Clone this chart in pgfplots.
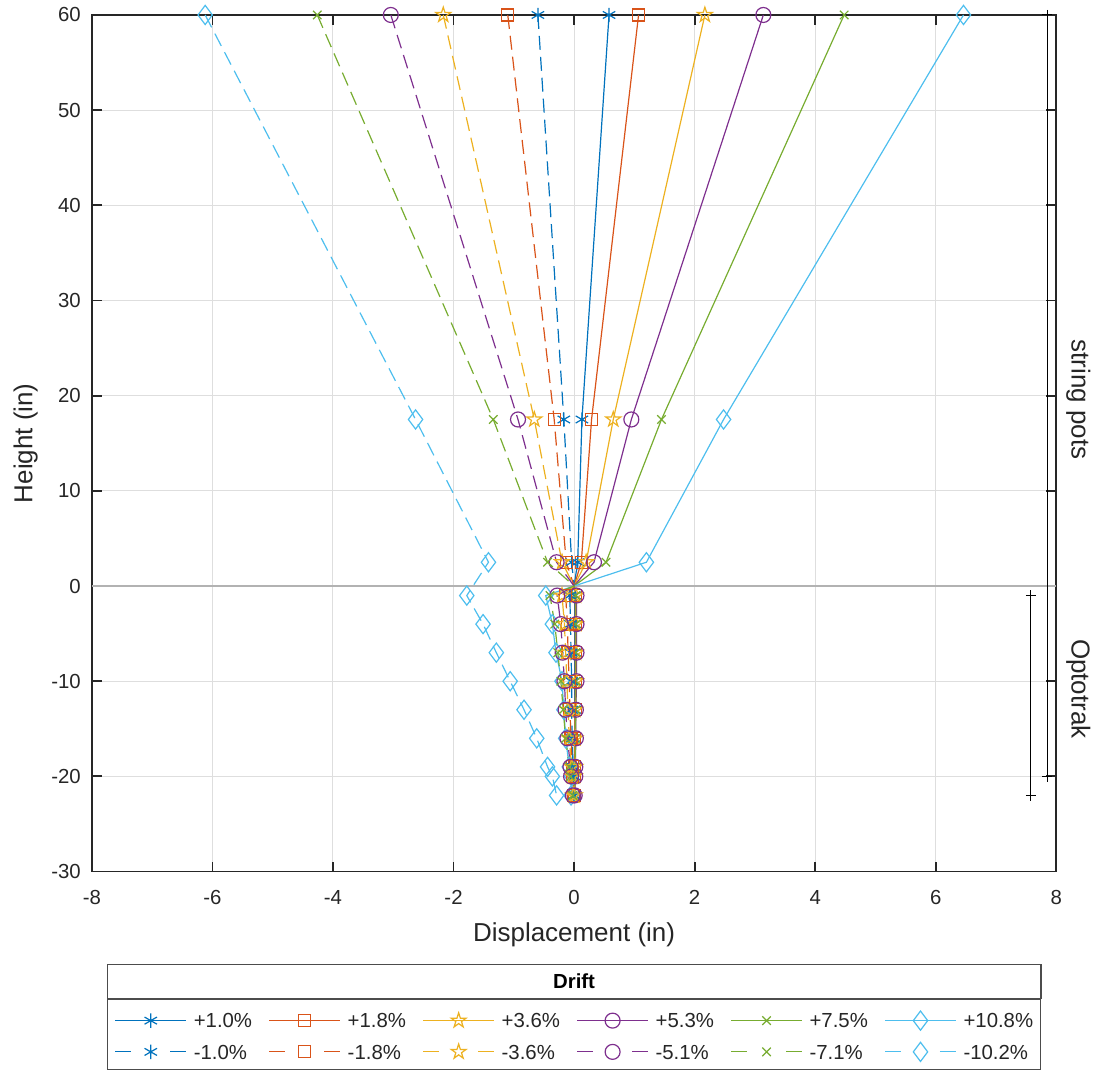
\documentclass[border=0pt]{standalone}
\usepackage{fontspec}
\setmainfont{Liberation Sans}
\usepackage{pgfplots}
\pgfplotsset{compat=1.18}
\definecolor{c1}{rgb}{0,0.447,0.741}
\definecolor{c2}{rgb}{0.850,0.325,0.098}
\definecolor{c3}{rgb}{0.929,0.694,0.125}
\definecolor{c4}{rgb}{0.494,0.184,0.556}
\definecolor{c5}{rgb}{0.466,0.674,0.188}
\definecolor{c6}{rgb}{0.301,0.745,0.933}
\pgfdeclareplotmark{pentagram}{%
  \pgfpathmoveto{\pgfpointpolar{90}{\pgfplotmarksize}}%
  \pgfpathlineto{\pgfpointpolar{126}{0.382\pgfplotmarksize}}%
  \pgfpathlineto{\pgfpointpolar{162}{\pgfplotmarksize}}%
  \pgfpathlineto{\pgfpointpolar{198}{0.382\pgfplotmarksize}}%
  \pgfpathlineto{\pgfpointpolar{234}{\pgfplotmarksize}}%
  \pgfpathlineto{\pgfpointpolar{270}{0.382\pgfplotmarksize}}%
  \pgfpathlineto{\pgfpointpolar{306}{\pgfplotmarksize}}%
  \pgfpathlineto{\pgfpointpolar{342}{0.382\pgfplotmarksize}}%
  \pgfpathlineto{\pgfpointpolar{18}{\pgfplotmarksize}}%
  \pgfpathlineto{\pgfpointpolar{54}{0.382\pgfplotmarksize}}%
  \pgfpathclose\pgfusepathqstroke}
\pgfplotsset{
  sol/.style={line width=0.6pt, mark options={solid, line width=0.6pt}, mark indices={1,2,3,5,6,7,8,9,10,11,12,13}},
  das/.style={sol, dash pattern=on 7pt off 3.5pt, legend image post style={dash pattern=on 8pt off 19.5pt}},
}
\begin{document}
\begin{tikzpicture}
\begin{axis}[name=ax, scale only axis, width=483pt, height=429pt,
  xmin=-8, xmax=8, ymin=-30, ymax=60,
  xtick={-8,-6,...,8}, ytick={-30,-20,...,60},
  grid=major, major grid style={black!13, line width=0.5pt},
  tick align=inside, major tick length=5pt,
  axis line style={black!85, line width=0.9pt},
  tick style={black!85, line width=0.9pt},
  ticklabel style={font=\fontsize{10.2}{12}\selectfont, text=black!85},
  xticklabel style={yshift=-6pt},
  yticklabel style={xshift=-2pt},
  /pgf/number format/assume math mode=true,
  xlabel={Displacement (in)}, ylabel={Height (in)},
  label style={font=\fontsize{13}{15}\selectfont, text=black!85},
  xlabel style={yshift=-2pt},
  clip=false,
  legend columns=6,
  legend style={at={(0.5,-0.14802)}, anchor=north, draw=black!70, line width=0.6pt,
    inner xsep=3.5pt, inner ysep=4pt, font=\fontsize{10.2}{12}\selectfont, text=black!85,
    nodes={inner sep=0pt, text height=10.5pt, text depth=0pt, text width=35pt, align=left},
    /tikz/every odd column/.append style={column sep=3.5pt},
    /tikz/every even column/.append style={column sep=2.5pt},
    row sep=4pt, name=leg, cells={anchor=west}},
  legend image code/.code={\draw[mark indices={2}] plot coordinates {(0pt,-1.6pt) (17.75pt,-1.6pt) (35.5pt,-1.6pt)};},
]
\addplot[black!30, line width=0.8pt, forget plot] coordinates {(-8,0) (8,0)};
% positive drifts
\addplot[c1, sol, mark=asterisk, mark size=3.6pt] coordinates {(0.58,60) (0.13,17.5) (0.06,2.5) (0,0) (0.01,-1) (0.01,-4) (0.01,-7) (0.01,-10) (0.01,-13) (0.01,-16) (0.00,-19) (0.00,-20) (0.00,-22)};
\addlegendentry{+1.0\%}
\addplot[c2, sol, mark=square, mark size=3pt] coordinates {(1.07,60) (0.29,17.5) (0.12,2.5) (0,0) (0.02,-1) (0.02,-4) (0.02,-7) (0.02,-10) (0.02,-13) (0.01,-16) (0.01,-19) (0.01,-20) (0.00,-22)};
\addlegendentry{+1.8\%}
\addplot[c3, sol, mark=pentagram, mark size=3.9pt] coordinates {(2.17,60) (0.65,17.5) (0.20,2.5) (0,0) (0.03,-1) (0.03,-4) (0.03,-7) (0.03,-10) (0.02,-13) (0.02,-16) (0.02,-19) (0.01,-20) (0.01,-22)};
\addlegendentry{+3.6\%}
\addplot[c4, sol, mark=o, mark size=3.75pt] coordinates {(3.14,60) (0.95,17.5) (0.33,2.5) (0,0) (0.04,-1) (0.04,-4) (0.04,-7) (0.04,-10) (0.03,-13) (0.03,-16) (0.02,-19) (0.02,-20) (0.01,-22)};
\addlegendentry{+5.3\%}
\addplot[c5, sol, mark=x, mark size=3pt] coordinates {(4.48,60) (1.45,17.5) (0.53,2.5) (0,0) (0.03,-1) (0.03,-4) (0.03,-7) (0.03,-10) (0.03,-13) (0.02,-16) (0.02,-19) (0.01,-20) (0.01,-22)};
\addlegendentry{+7.5\%}
\addplot[c6, sol, mark=diamond, mark size=4.8pt] coordinates {(6.46,60) (2.48,17.5) (1.20,2.5) (0,0) (-0.47,-1) (-0.36,-4) (-0.30,-7) (-0.20,-10) (-0.17,-13) (-0.14,-16) (-0.08,-19) (-0.04,-20) (-0.05,-22)};
\addlegendentry{+10.8\%}
% negative drifts
\addplot[c1, das, mark=asterisk, mark size=3.6pt] coordinates {(-0.60,60) (-0.17,17.5) (-0.04,2.5) (0,0) (-0.07,-1) (-0.06,-4) (-0.05,-7) (-0.04,-10) (-0.04,-13) (-0.03,-16) (-0.02,-19) (-0.01,-20) (0.00,-22)};
\addlegendentry{-1.0\%}
\addplot[c2, das, mark=square, mark size=3pt] coordinates {(-1.10,60) (-0.33,17.5) (-0.13,2.5) (0,0) (-0.14,-1) (-0.11,-4) (-0.10,-7) (-0.08,-10) (-0.07,-13) (-0.05,-16) (-0.03,-19) (-0.02,-20) (-0.01,-22)};
\addlegendentry{-1.8\%}
\addplot[c3, das, mark=pentagram, mark size=3.9pt] coordinates {(-2.17,60) (-0.66,17.5) (-0.20,2.5) (0,0) (-0.20,-1) (-0.16,-4) (-0.14,-7) (-0.12,-10) (-0.10,-13) (-0.08,-16) (-0.04,-19) (-0.03,-20) (-0.01,-22)};
\addlegendentry{-3.6\%}
\addplot[c4, das, mark=o, mark size=3.75pt] coordinates {(-3.04,60) (-0.93,17.5) (-0.29,2.5) (0,0) (-0.28,-1) (-0.22,-4) (-0.19,-7) (-0.16,-10) (-0.14,-13) (-0.11,-16) (-0.06,-19) (-0.05,-20) (-0.02,-22)};
\addlegendentry{-5.1\%}
\addplot[c5, das, mark=x, mark size=3pt] coordinates {(-4.26,60) (-1.34,17.5) (-0.44,2.5) (0,0) (-0.40,-1) (-0.32,-4) (-0.27,-7) (-0.22,-10) (-0.18,-13) (-0.14,-16) (-0.08,-19) (-0.06,-20) (-0.02,-22)};
\addlegendentry{-7.1\%}
\addplot[c6, line width=0.6pt, dash pattern=on 7pt off 3.5pt, mark options={solid, line width=0.6pt}, legend image post style={dash pattern=on 8pt off 19.5pt}, mark=diamond, mark size=4.8pt] coordinates {(-6.12,60) (-2.63,17.5) (-1.42,2.5) (-1.78,-1) (-1.51,-4) (-1.29,-7) (-1.06,-10) (-0.83,-13) (-0.62,-16) (-0.44,-19) (-0.36,-20) (-0.29,-22)};
\addlegendentry{-10.2\%}
% instrument ranges
\addplot[black, line width=0.5pt, mark=+, mark size=2.6pt, forget plot] coordinates {(7.58,-1) (7.58,-22)};
\addplot[black, line width=0.5pt, mark=+, mark size=2.6pt, forget plot] coordinates {(7.85,60) (7.85,-20)};
\node[rotate=-90, font=\fontsize{13}{15}\selectfont, text=black!85] at (axis cs:8.364,19.6) {string pots};
\node[rotate=-90, font=\fontsize{13}{15}\selectfont, text=black!85] at (axis cs:8.364,-10.8) {Optotrak};
\end{axis}
\draw[black!70, line width=0.6pt] (leg.north west) rectangle ([yshift=17pt]leg.north east);
\node[font=\bfseries\fontsize{10.2}{12}\selectfont, text=black] at ([yshift=8.5pt]leg.north) {Drift};
\path ([xshift=-46pt,yshift=-97pt]ax.south west) rectangle ([xshift=19.5pt,yshift=7.5pt]ax.north east);
\end{tikzpicture}
\end{document}
